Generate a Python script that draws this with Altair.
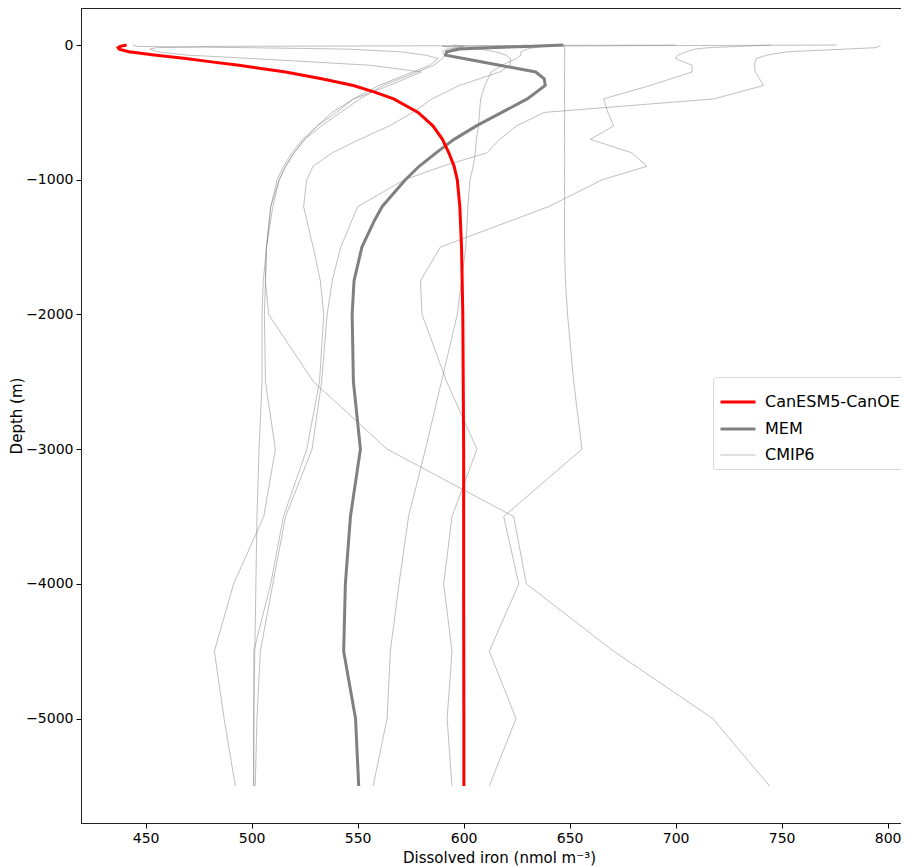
import altair as alt
import pandas as pd

# ---------------- data ----------------
GROUPS = ["CanESM5-CanOE", "MEM", "CMIP6"]

# depth levels (m, positive down) of the thin CMIP6 model profiles
CMIP6_DEPTH = [0, 10, 20, 30, 50, 75, 100, 150, 200, 300, 400, 500, 600, 700,
               800, 900, 1000, 1200, 1500, 1750, 2000, 2500, 3000, 3500, 4000,
               4500, 5000, 5500]

CMIP6_M1 = [444, 446, 500, 545, 570, 582, 588, 584, 576, 560, 548, 540, 531, 524,
            519, 515, 512, 509, 507, 506.5, 506, 506.5, 511.2, 505.7, 491.5,
            482.4, 487, 492.3]
CMIP6_M2 = [700, 480, 455, 452, 455, 470, 500, 556, 580, 565, 548, 538, 531, 525,
            520, 516, 513, 510, 507, 505.5, 504.9, 504.9, 503.5, 502.5, 502,
            501.5, 501, 501]
CMIP6_M3 = [776, 590, 600, 608, 615, 620, 622, 622, 617, 598, 585, 576, 565, 551,
            538, 529, 526, 524.5, 529, 532.4, 534, 532, 526, 515, 509,
            501, 501, 500.9]
CMIP6_M4 = [796.6, 796, 794, 780, 752.5, 743, 738, 737, 737.6, 741.5, 718, 638, 625,
            617, 611, 590, 572, 550, 542, 538, 535.6, 533, 528.5, 516, 510,
            504.1, 502.5, 501.7]
CMIP6_M5 = [745, 730, 715, 709, 705, 701, 700, 707.7, 707.7, 688, 666, 668, 670.8,
            659.8, 679.4, 686.5, 665.3, 640, 589, 579.6, 580.4, 592, 606.3, 594.5,
            590.6, 594.5, 592.2, 594.5]
CMIP6_M6 = [647.6, 647.6, 647.6, 647.6, 647.6, 647.6, 647.6, 647.6, 647.6, 647.6,
            647.6, 647.6, 647.6, 647.6, 647.6, 647.6, 647.6, 647.6, 647.6, 648,
            649, 651.9, 655.8, 618.9, 626, 612.1, 624.7, 612.1]
CMIP6_M7 = [595, 600, 598, 592, 590, 591, 590, 586, 578, 562, 551, 542, 533, 525,
            520, 516, 513, 509, 507, 506.5, 508, 529.2, 563.9, 623.6, 629.6,
            670.8, 717.5, 744.3]
CMIP6_M8 = [628, 637, 633, 630, 627, 627, 625, 618, 613, 610, 608, 607.5, 607, 606,
            605.5, 604.5, 603, 602, 601, 599, 597, 589.5, 582, 574, 569.5,
            565.4, 563.9, 557.3]
CMIP6_NAMES = ["M1", "M2", "M3", "M4", "M5", "M6", "M7", "M8"]
CMIP6_VALUES = [CMIP6_M1, CMIP6_M2, CMIP6_M3, CMIP6_M4, CMIP6_M5, CMIP6_M6,
                CMIP6_M7, CMIP6_M8]

# multi-model mean (thick grey)
MEM_DEPTH = [0, 10, 20, 30, 50, 75, 100, 150, 200, 250, 300, 400, 500, 600, 700,
             800, 900, 1000, 1200, 1300, 1500, 1750, 2000, 2500, 3000, 3500, 4000,
             4500, 5000, 5500]
MEM_FE = [647, 630, 612, 598, 592, 591.5, 600, 617, 634, 638, 638.5, 630, 618, 606,
          595.5, 587, 579, 572.5, 561.5, 558, 552, 548.3, 547.4, 548, 551.3, 546.6,
          544.2, 543.4, 549, 550.5]

# CanESM5-CanOE (red)
RED_DEPTH = [0, 10, 20, 30, 50, 75, 100, 125, 150, 200, 250, 300, 350, 400, 500,
             600, 700, 800, 900, 1000, 1200, 1500, 2000, 3000, 4000, 5000, 5500]
RED_FE = [441, 438, 437, 437.5, 442, 455, 469, 481, 494, 516, 533, 548, 558, 567,
          578.5, 585.5, 590, 593, 595.5, 597, 598.2, 599, 599.6, 600, 600, 600.1,
          600.1]

X_TICKS = [450, 500, 550, 600, 650, 700, 750, 800]
Y_TICKS = [-5000, -4000, -3000, -2000, -1000, 0]

# ---------------- long table ----------------
rows = []
for name, vals in zip(CMIP6_NAMES, CMIP6_VALUES):
    for k, (d, v) in enumerate(zip(CMIP6_DEPTH, vals)):
        rows.append({"model": name, "group": "CMIP6", "depth": -d, "fe": v, "k": k})
for k, (d, v) in enumerate(zip(MEM_DEPTH, MEM_FE)):
    rows.append({"model": "MEM", "group": "MEM", "depth": -d, "fe": v, "k": k})
for k, (d, v) in enumerate(zip(RED_DEPTH, RED_FE)):
    rows.append({"model": "CanESM5-CanOE", "group": "CanESM5-CanOE",
                 "depth": -d, "fe": v, "k": k})
df = pd.DataFrame(rows)

color_scale = alt.Scale(type="ordinal", domain=GROUPS,
                        range=["#ff0000", "#808080", "#808080"])
width_scale = alt.Scale(type="ordinal", domain=GROUPS, range=[3, 3, 1])
opac_scale = alt.Scale(type="ordinal", domain=GROUPS, range=[1, 1, 0.5])

leg = dict(title=None, orient="none", legendX=632, legendY=369)

enc = dict(
    x=alt.X("fe:Q",
            scale=alt.Scale(domain=[419.5, 806.3], nice=False, zero=False),
            axis=alt.Axis(values=X_TICKS, title="Dissolved iron (nmol m⁻³)",
                          titleX=418, titlePadding=5)),
    y=alt.Y("depth:Q",
            scale=alt.Scale(domain=[-5775, 275], nice=False, zero=False),
            axis=alt.Axis(values=Y_TICKS, title="Depth (m)", format="d",
                          titleX=-57)),
    color=alt.Color("group:N", scale=color_scale, legend=alt.Legend(**leg)),
    strokeWidth=alt.StrokeWidth("group:N", scale=width_scale,
                                legend=alt.Legend(**leg)),
    opacity=alt.Opacity("group:N", scale=opac_scale, legend=alt.Legend(**leg)),
    detail="model:N",
    order="k:Q",
)

base = alt.Chart(df)
cmip = base.transform_filter(alt.datum.group == "CMIP6").mark_line().encode(**enc)
mem = base.transform_filter(alt.datum.group == "MEM").mark_line().encode(**enc)
red = base.transform_filter(alt.datum.group == "CanESM5-CanOE").mark_line().encode(**enc)

chart = (
    alt.layer(cmip, mem, red)
    .properties(width=820, height=815,
                autosize=alt.AutoSizeParams(type="none"),
                padding={"left": 73, "top": 0, "right": 0, "bottom": 43})
    .configure_view(stroke="#222222", strokeWidth=1)
    .configure_axis(labelFont="DejaVu Sans", titleFont="DejaVu Sans",
                    labelFontSize=14, titleFontSize=15, labelColor="#000000",
                    titleColor="#000000", tickColor="#000000",
                    domainColor="#222222", tickSize=5, grid=False,
                    titleFontWeight="normal", labelPadding=3)
    .configure_legend(symbolType="stroke", symbolSize=1225, labelFontSize=16,
                      labelFont="DejaVu Sans", labelColor="#000000",
                      strokeColor="#d6d6d6", fillColor="white", padding=6,
                      cornerRadius=3, rowPadding=0, labelOffset=8)
)

chart.save("out.html", embed_options={"renderer": "svg", "actions": False})
